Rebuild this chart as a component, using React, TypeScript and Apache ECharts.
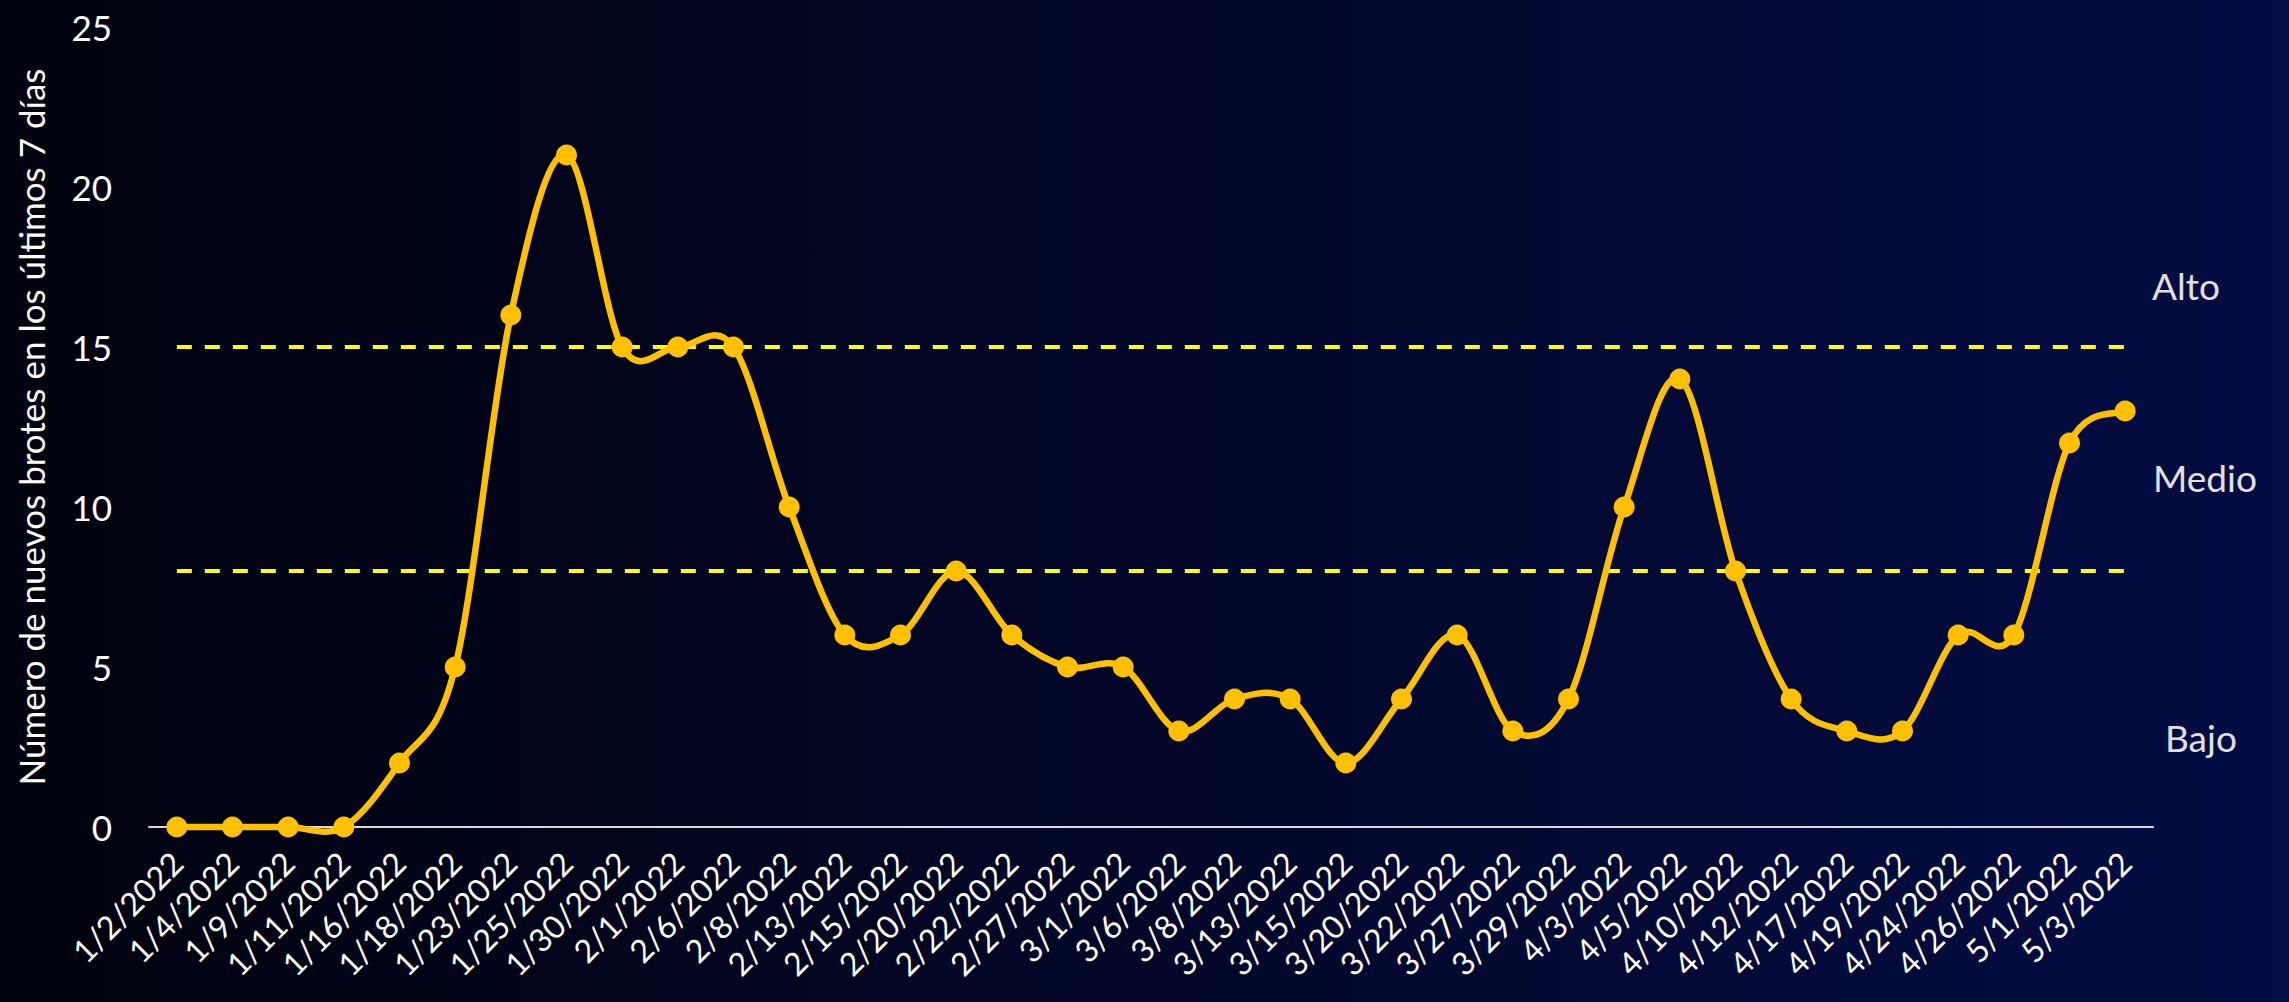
import React, { useEffect, useRef } from "react";
import * as echarts from "echarts";

const categories = [
  "1/2/2022", "1/4/2022", "1/9/2022", "1/11/2022", "1/16/2022", "1/18/2022",
  "1/23/2022", "1/25/2022", "1/30/2022", "2/1/2022", "2/6/2022", "2/8/2022",
  "2/13/2022", "2/15/2022", "2/20/2022", "2/22/2022", "2/27/2022", "3/1/2022",
  "3/6/2022", "3/8/2022", "3/13/2022", "3/15/2022", "3/20/2022", "3/22/2022",
  "3/27/2022", "3/29/2022", "4/3/2022", "4/5/2022", "4/10/2022", "4/12/2022",
  "4/17/2022", "4/19/2022", "4/24/2022", "4/26/2022", "5/1/2022", "5/3/2022",
];

const brotes = [
  0, 0, 0, 0, 2, 5, 16, 21, 15, 15, 15, 10, 6, 6, 8, 6, 5, 5, 3, 4, 4, 2, 4, 6,
  3, 4, 10, 14, 8, 4, 3, 3, 6, 6, 12, 13,
];

const thresholds = [15, 8];

const levelLabels = ["Alto", "Medio", "Bajo"];

const yAxisName = "Número de nuevos brotes en los últimos 7 días";

const FONT = "Lato";
const LINE_COLOR = "#ffc000";

export default function App() {
  const ref = useRef<HTMLDivElement>(null);

  useEffect(() => {
    if (!ref.current) return;
    const chart = echarts.init(ref.current, undefined, { renderer: "svg" });
    const last = categories[categories.length - 1];
    const first = categories[0];

    const renderSpline = (_params: any, api: any) => {
      const pts = brotes.map((v, i) => api.coord([i, v]));
      const n = pts.length;
      const P = (i: number) => pts[Math.max(0, Math.min(n - 1, i))];
      let d = `M${pts[0][0]},${pts[0][1]}`;
      for (let i = 0; i < n - 1; i++) {
        const p0 = P(i - 1);
        const p1 = P(i);
        const p2 = P(i + 1);
        const p3 = P(i + 2);
        const c1x = p1[0] + (p2[0] - p0[0]) / 6;
        const c1y = p1[1] + (p2[1] - p0[1]) / 6;
        const c2x = p2[0] - (p3[0] - p1[0]) / 6;
        const c2y = p2[1] - (p3[1] - p1[1]) / 6;
        d += ` C${c1x},${c1y} ${c2x},${c2y} ${p2[0]},${p2[1]}`;
      }
      return {
        type: "path",
        shape: { pathData: d },
        style: { stroke: LINE_COLOR, lineWidth: 6.5, fill: "none", lineJoin: "round" },
      };
    };

    const labelStyle = (text: string) => ({
      text,
      fill: "#e0e0e0",
      fontSize: 37,
      fontFamily: FONT,
      verticalAlign: "middle",
    });

    const option = {
      animation: false,
      backgroundColor: {
        type: "linear",
        x: 0,
        y: 0,
        x2: 1,
        y2: 0,
        colorStops: [
          { offset: 0, color: "#00020d" },
          { offset: 1, color: "#040d44" },
        ],
      },
      grid: { left: 149, right: 136, top: 27, bottom: 175, containLabel: false },
      xAxis: {
        type: "category",
        data: categories,
        boundaryGap: true,
        axisLine: { show: true, lineStyle: { color: "#d9d9d9", width: 2 } },
        axisTick: { show: false },
        axisLabel: {
          color: "#ffffff",
          fontSize: 32,
          fontFamily: FONT,
          rotate: 45,
          margin: 30,
          interval: 0,
        },
        splitLine: { show: false },
      },
      yAxis: {
        type: "value",
        min: 0,
        max: 25,
        interval: 5,
        name: yAxisName,
        nameLocation: "middle",
        nameGap: 101,
        nameRotate: 90,
        nameTextStyle: { color: "#ffffff", fontSize: 35, fontFamily: FONT },
        axisLine: { show: false },
        axisTick: { show: false },
        splitLine: { show: false },
        axisLabel: {
          color: "#ffffff",
          fontSize: 35,
          fontFamily: FONT,
          margin: 37,
        },
      },
      series: [
        {
          type: "custom",
          data: [[0, brotes[0]]],
          renderItem: renderSpline,
          silent: true,
          clip: false,
          z: 3,
        },
        {
          type: "line",
          data: brotes,
          symbol: "circle",
          symbolSize: 21,
          lineStyle: { color: LINE_COLOR, width: 0, opacity: 0 },
          itemStyle: { color: LINE_COLOR },
          z: 4,
          markLine: {
            silent: true,
            symbol: "none",
            label: { show: false },
            lineStyle: { color: "#ffff00", width: 4, type: [15, 13] },
            data: thresholds.map((t) => [
              { coord: [first, t] },
              { coord: [last, t] },
            ]),
            z: 2,
          },
        },
      ],
      graphic: [
        { type: "text", x: 2152, y: 285, style: labelStyle(levelLabels[0]) },
        { type: "text", x: 2153, y: 477, style: labelStyle(levelLabels[1]) },
        { type: "text", x: 2165, y: 737, style: labelStyle(levelLabels[2]) },
      ],
    };
    chart.setOption(option as any);
    return () => chart.dispose();
  }, []);

  return (
    <div
      ref={ref}
      style={{ position: "fixed", left: 0, top: 0, width: 2289, height: 1002 }}
    />
  );
}
